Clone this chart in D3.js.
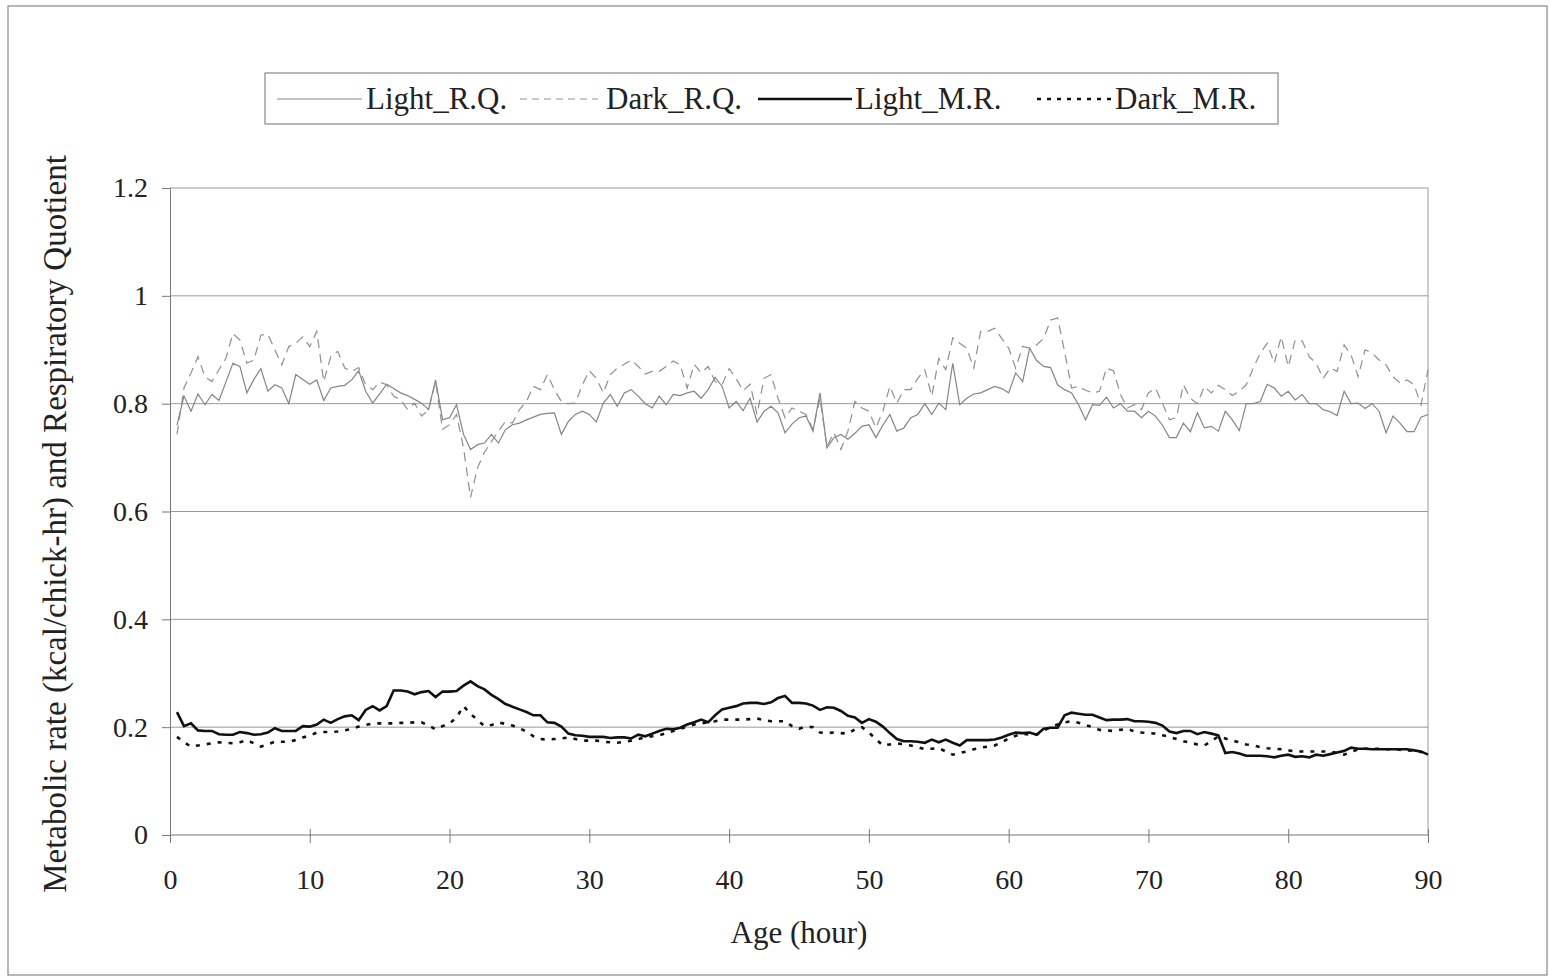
<!DOCTYPE html>
<html>
<head>
<meta charset="utf-8">
<script src="https://cdn.jsdelivr.net/npm/d3@7"></script>
<style>
  body { margin: 0; background: #fff; }
  text { font-family: "Liberation Serif", "Times New Roman", serif; fill: #222; }
</style>
</head>
<body>
<script>
// hours (every half hour)
var hours = d3.range(1, 181).map(function(i) { return i / 2 })

var lightRQ = [0.76,0.814,0.786,0.818,0.798,0.817,0.806,0.84,0.875,0.869,0.82,0.845,0.865,0.823,0.835,0.829,0.80,0.854,0.845,0.836,
  0.844,0.806,0.829,0.832,0.834,0.844,0.861,0.823,0.801,0.818,0.836,0.828,0.82,0.815,0.808,0.801,0.789,0.844,0.77,0.774,
  0.798,0.743,0.715,0.724,0.727,0.743,0.727,0.752,0.761,0.764,0.77,0.775,0.78,0.782,0.783,0.743,0.767,0.78,0.786,0.78,
  0.766,0.801,0.817,0.795,0.82,0.826,0.814,0.80,0.792,0.814,0.798,0.817,0.815,0.82,0.823,0.81,0.826,0.849,0.832,0.792,
  0.804,0.787,0.81,0.766,0.786,0.795,0.783,0.746,0.762,0.774,0.777,0.749,0.82,0.718,0.737,0.743,0.734,0.745,0.758,0.761,
  0.737,0.76,0.78,0.749,0.755,0.774,0.78,0.80,0.78,0.801,0.789,0.875,0.798,0.81,0.818,0.82,0.826,0.832,0.828,0.82,
  0.857,0.841,0.903,0.88,0.869,0.867,0.835,0.826,0.82,0.798,0.77,0.798,0.797,0.812,0.792,0.80,0.786,0.786,0.774,0.786,
  0.777,0.76,0.737,0.737,0.764,0.748,0.783,0.755,0.758,0.749,0.786,0.77,0.75,0.80,0.80,0.804,0.836,0.829,0.814,0.823,
  0.807,0.817,0.80,0.80,0.789,0.785,0.778,0.823,0.80,0.801,0.791,0.80,0.786,0.746,0.777,0.764,0.748,0.748,0.775,0.78]

var darkRQ = [0.743,0.829,0.857,0.887,0.85,0.841,0.863,0.884,0.93,0.918,0.875,0.881,0.927,0.929,0.90,0.872,0.906,0.912,0.924,0.906,
  0.934,0.841,0.887,0.897,0.866,0.86,0.867,0.835,0.826,0.84,0.835,0.814,0.807,0.789,0.801,0.777,0.789,0.841,0.752,0.761,
  0.78,0.718,0.626,0.681,0.71,0.73,0.749,0.767,0.764,0.789,0.804,0.832,0.826,0.854,0.826,0.804,0.80,0.801,0.835,0.861,
  0.847,0.82,0.854,0.866,0.873,0.881,0.869,0.855,0.86,0.86,0.869,0.879,0.872,0.829,0.873,0.857,0.869,0.841,0.835,0.865,
  0.847,0.824,0.836,0.78,0.847,0.854,0.81,0.774,0.792,0.786,0.78,0.752,0.81,0.721,0.746,0.715,0.749,0.804,0.792,0.786,
  0.755,0.786,0.832,0.801,0.826,0.826,0.847,0.863,0.814,0.884,0.863,0.922,0.912,0.903,0.866,0.934,0.934,0.94,0.921,0.903,
  0.866,0.906,0.903,0.909,0.921,0.955,0.959,0.897,0.829,0.832,0.825,0.82,0.823,0.866,0.861,0.817,0.792,0.798,0.789,0.82,
  0.829,0.801,0.77,0.774,0.835,0.81,0.80,0.832,0.82,0.834,0.826,0.815,0.823,0.835,0.866,0.894,0.912,0.875,0.924,0.869,
  0.918,0.916,0.887,0.875,0.847,0.866,0.86,0.909,0.89,0.85,0.9,0.894,0.881,0.872,0.85,0.838,0.844,0.835,0.798,0.863]

var lightMR = [0.228,0.202,0.207,0.194,0.193,0.193,0.187,0.186,0.186,0.191,0.189,0.186,0.187,0.19,0.198,0.193,0.193,0.193,0.202,0.201,
  0.205,0.214,0.208,0.215,0.22,0.222,0.213,0.232,0.239,0.231,0.239,0.268,0.268,0.266,0.261,0.265,0.267,0.256,0.266,0.266,
  0.267,0.277,0.285,0.276,0.27,0.26,0.252,0.243,0.238,0.233,0.228,0.222,0.222,0.209,0.208,0.201,0.188,0.185,0.184,0.182,
  0.182,0.182,0.18,0.181,0.181,0.179,0.186,0.183,0.188,0.193,0.197,0.196,0.199,0.205,0.209,0.214,0.209,0.222,0.233,0.236,
  0.239,0.244,0.245,0.245,0.243,0.246,0.254,0.258,0.245,0.245,0.244,0.24,0.232,0.237,0.236,0.23,0.221,0.218,0.208,0.215,
  0.21,0.201,0.189,0.178,0.174,0.174,0.173,0.171,0.177,0.172,0.177,0.171,0.166,0.176,0.176,0.176,0.176,0.177,0.181,0.186,
  0.19,0.189,0.19,0.186,0.197,0.199,0.199,0.222,0.227,0.225,0.223,0.223,0.218,0.213,0.214,0.214,0.215,0.211,0.211,0.21,
  0.208,0.203,0.192,0.189,0.193,0.193,0.187,0.191,0.188,0.185,0.152,0.154,0.151,0.147,0.147,0.147,0.146,0.144,0.147,0.149,
  0.145,0.146,0.144,0.149,0.147,0.15,0.153,0.156,0.162,0.16,0.16,0.159,0.159,0.159,0.159,0.159,0.159,0.157,0.155,0.149]

var darkMR = [0.182,0.172,0.164,0.166,0.168,0.17,0.172,0.171,0.17,0.172,0.176,0.17,0.164,0.168,0.173,0.173,0.173,0.176,0.181,0.184,
  0.19,0.191,0.191,0.192,0.194,0.197,0.201,0.204,0.207,0.207,0.207,0.207,0.208,0.208,0.209,0.209,0.203,0.196,0.202,0.207,
  0.218,0.239,0.225,0.213,0.202,0.204,0.209,0.206,0.203,0.198,0.192,0.183,0.178,0.177,0.178,0.179,0.181,0.178,0.175,0.175,
  0.175,0.173,0.172,0.171,0.173,0.175,0.178,0.181,0.183,0.185,0.189,0.193,0.197,0.201,0.205,0.207,0.209,0.211,0.214,0.214,
  0.214,0.214,0.215,0.216,0.213,0.211,0.211,0.211,0.202,0.197,0.201,0.2,0.19,0.189,0.19,0.189,0.188,0.196,0.2,0.19,
  0.178,0.166,0.168,0.17,0.168,0.166,0.163,0.159,0.16,0.161,0.155,0.149,0.152,0.155,0.159,0.162,0.164,0.166,0.172,0.179,
  0.184,0.188,0.186,0.186,0.194,0.2,0.205,0.209,0.211,0.208,0.204,0.2,0.195,0.194,0.193,0.195,0.197,0.192,0.19,0.189,
  0.188,0.185,0.182,0.178,0.174,0.171,0.168,0.166,0.174,0.183,0.179,0.175,0.172,0.168,0.166,0.163,0.161,0.16,0.159,0.157,
  0.155,0.155,0.155,0.155,0.155,0.155,0.152,0.149,0.154,0.159,0.16,0.16,0.16,0.159,0.159,0.158,0.157,0.156,0.154,0.152]

var xTicks = [0, 10, 20, 30, 40, 50, 60, 70, 80, 90]
var yTicks = [0, 0.2, 0.4, 0.6, 0.8, 1, 1.2]
var yTickLabels = ["0", "0.2", "0.4", "0.6", "0.8", "1", "1.2"]
var seriesNames = ["Light_R.Q.", "Dark_R.Q.", "Light_M.R.", "Dark_M.R."]

var svg = d3.select("body").append("svg").attr("width", 1550).attr("height", 978)

// outer frame
svg.append("rect")
  .attr("x", 8).attr("y", 6).attr("width", 1539).attr("height", 969)
  .attr("fill", "#fff").attr("stroke", "#888").attr("stroke-width", 1.2)

var x = d3.scaleLinear().domain([0, 90]).range([170, 1428])
var y = d3.scaleLinear().domain([0, 1.2]).range([835, 188])

// gridlines
svg.append("g").selectAll("line")
  .data(yTicks.slice(1))
  .join("line")
  .attr("x1", 170).attr("x2", 1428)
  .attr("y1", function(d) { return y(d) }).attr("y2", function(d) { return y(d) })
  .attr("stroke", "#999").attr("stroke-width", 1)

// right border of plot
svg.append("line")
  .attr("x1", 1428).attr("x2", 1428).attr("y1", 188).attr("y2", 835)
  .attr("stroke", "#999").attr("stroke-width", 1)

// axes
var yAxis = svg.append("g")
  .attr("transform", "translate(170,0)")
  .call(d3.axisLeft(y).tickValues(yTicks).tickSize(8).tickPadding(14)
    .tickFormat(function(d, i) { return yTickLabels[i] }))
yAxis.selectAll("text").attr("font-size", 28).style("font-family", "Liberation Serif")
yAxis.selectAll("line, path").attr("stroke", "#777")

var xAxis = svg.append("g")
  .attr("transform", "translate(0,835)")
  .call(d3.axisBottom(x).tickValues(xTicks).tickSize(8).tickPadding(26))
xAxis.selectAll(".tick line").attr("y1", -6).attr("y2", 8)
xAxis.selectAll("text").attr("font-size", 28).style("font-family", "Liberation Serif")
xAxis.selectAll("line, path").attr("stroke", "#777")
xAxis.select(".domain").attr("d", "M170,0H1428")

// lines
var line = function(values) {
  return d3.line()
    .x(function(d, i) { return x(hours[i]) })
    .y(function(d) { return y(d) })(values)
}

svg.append("path").attr("d", line(lightRQ))
  .attr("fill", "none").attr("stroke", "#858585").attr("stroke-width", 1.2)

svg.append("path").attr("d", line(darkRQ))
  .attr("fill", "none").attr("stroke", "#8f8f8f").attr("stroke-width", 1.2)
  .attr("stroke-dasharray", "9,6")

svg.append("path").attr("d", line(lightMR))
  .attr("fill", "none").attr("stroke", "#111").attr("stroke-width", 2.6)

svg.append("path").attr("d", line(darkMR))
  .attr("fill", "none").attr("stroke", "#111").attr("stroke-width", 2.6)
  .attr("stroke-dasharray", "4,7")

// axis titles
svg.append("text")
  .attr("x", 799).attr("y", 943)
  .attr("text-anchor", "middle").attr("font-size", 31)
  .text("Age (hour)")

svg.append("text")
  .attr("transform", "translate(66,524) rotate(-90)")
  .attr("text-anchor", "middle").attr("font-size", 33)
  .text("Metabolic rate (kcal/chick-hr) and Respiratory Quotient")

// legend
var legend = svg.append("g")
legend.append("rect")
  .attr("x", 265).attr("y", 73).attr("width", 1013).attr("height", 51)
  .attr("fill", "#fff").attr("stroke", "#888").attr("stroke-width", 1.2)

var legendItems = [
  {x1: 277, x2: 362, tx: 366, stroke: "#858585", w: 1.2, dash: null},
  {x1: 520, x2: 598, tx: 606, stroke: "#8f8f8f", w: 1.2, dash: "7,5"},
  {x1: 758, x2: 852, tx: 855, stroke: "#111", w: 2.6, dash: null},
  {x1: 1037, x2: 1112, tx: 1115, stroke: "#111", w: 2.6, dash: "4,6"}
]
legendItems.forEach(function(d, i) {
  legend.append("line")
    .attr("x1", d.x1).attr("x2", d.x2).attr("y1", 99).attr("y2", 99)
    .attr("stroke", d.stroke).attr("stroke-width", d.w)
    .attr("stroke-dasharray", d.dash)
  legend.append("text")
    .attr("x", d.tx).attr("y", 109).attr("font-size", 31)
    .text(seriesNames[i])
})
</script>
</body>
</html>
